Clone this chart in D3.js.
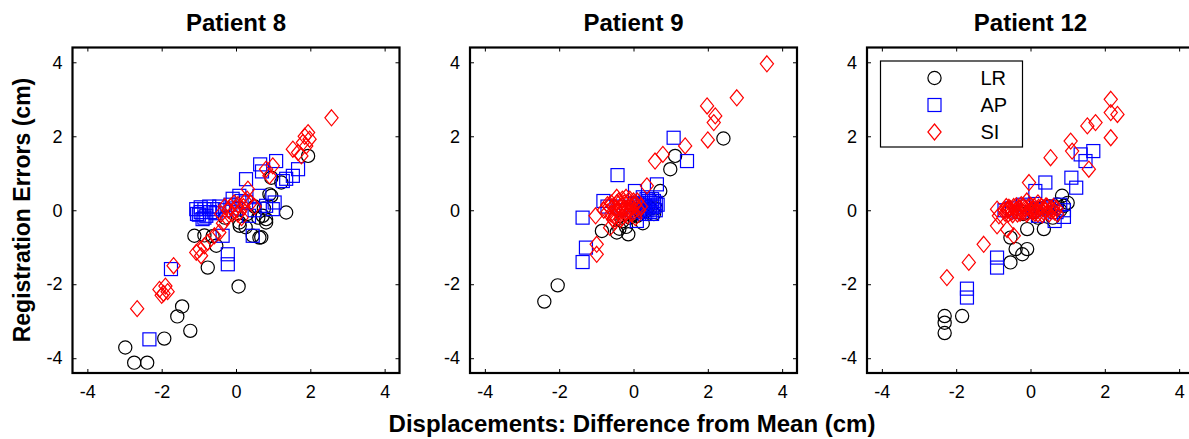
<!DOCTYPE html>
<html>
<head>
<meta charset="utf-8">
<script src="https://cdn.jsdelivr.net/npm/d3@7"></script>
<style>
  html, body { margin: 0; padding: 0; background: #fff; }
  svg { display: block; font-family: "Liberation Sans", Arial, sans-serif; }
</style>
</head>
<body>
<svg id="chart" width="1189" height="439"></svg>
<script>
// Panel titles and axis ticks
const patients = ["Patient 8", "Patient 9", "Patient 12"];
const tickValues = [-4, -2, 0, 2, 4];
const seriesNames = ["LR", "AP", "SI"];
const seriesColors = ["#000000", "#0000ff", "#ff0000"];
const seriesShapes = ["circle", "square", "diamond"];

// [displacement difference from mean, registration error] in cm
const p8LR = [[-2.98,-3.71],[-2.74,-4.12],[-2.39,-4.12],[-1.93,-3.47],[-1.58,-2.87],[-1.45,-2.6],[-1.23,-3.26],[-0.76,-1.55],[0.07,-2.06],[-1.12,-0.69],[-0.85,-0.68],[-0.53,-0.96],[-0.63,-0.7],[0.1,-0.42],[0.09,-0.33],[0.45,-0.69],[0.68,-0.73],[0.63,-0.74],[0.81,-0.24],[0.72,-0.15],[0.81,-0.33],[0.9,0.43],[0.95,0.39],[1.35,-0.06],[1.22,0.75],[0.95,0.88],[1.94,1.47],[-0.3,-0.2],[0.3,-0.1],[0.5,0.1],[0.26,-0.46],[0.6,-0.2],[0.75,0.05]];
const p8AP = [[-2.33,-3.49],[-1.75,-1.59],[-0.22,-1.19],[-0.22,-1.46],[0.45,-0.69],[-0.36,-0.69],[-1.07,0.03],[-0.95,-0.05],[-0.85,0.03],[-0.72,0.1],[-0.9,-0.24],[-1.0,-0.12],[-0.6,0.03],[-0.45,0.1],[-0.3,0.0],[-0.15,0.15],[0.0,0.05],[0.15,0.25],[0.27,0.84],[0.65,1.24],[0.7,1.05],[1.08,1.33],[1.53,0.93],[1.67,1.11],[1.26,0.79],[1.35,0.85],[0.99,0.03],[1.04,0.21],[0.81,0.12],[0.63,0.39],[-0.09,0.31],[0.09,0.39],[0.27,0.21],[0.5,0.0],[0.35,-0.15],[-1.05,-0.1],[-0.95,0.08],[-0.8,-0.15],[-0.7,-0.05],[-0.85,-0.2],[-0.55,-0.08]];
const p8SI = [[-2.66,-2.66],[-2.06,-2.14],[-2.0,-2.3],[-1.9,-2.05],[-1.84,-2.2],[-1.95,-2.25],[-1.68,-1.5],[-1.07,-1.14],[-0.98,-1.05],[-0.85,-0.96],[-0.94,-1.23],[-0.76,-0.87],[-0.58,-0.69],[-0.45,-0.6],[-0.35,-0.35],[-0.25,-0.2],[-0.2,0.0],[-0.1,-0.1],[0.0,0.05],[0.05,0.15],[0.1,-0.05],[0.2,0.1],[0.25,0.25],[-0.05,0.2],[0.3,0.3],[0.4,0.2],[0.5,0.1],[0.15,-0.2],[-0.3,0.1],[0.32,0.57],[0.81,1.11],[0.99,1.2],[0.9,0.93],[1.53,1.65],[1.67,1.56],[1.8,1.83],[1.94,2.1],[1.98,1.92],[1.89,1.74],[1.76,1.47],[1.85,2.0],[2.57,2.5],[-0.15,0.1],[0.05,-0.1],[-0.4,-0.1]];

const p9LR = [[-2.4,-2.47],[-2.04,-2.03],[-0.85,-0.56],[-0.45,-0.6],[-0.38,-0.5],[-0.14,-0.65],[-0.3,-0.3],[-0.1,-0.2],[0.0,-0.1],[0.1,-0.15],[0.2,-0.05],[0.35,0.0],[0.45,0.05],[0.55,-0.1],[0.6,0.05],[0.25,-0.35],[0.72,0.52],[0.99,1.11],[1.12,1.47],[2.42,1.94],[-0.2,-0.45],[0.4,0.1]];
const p9AP = [[-1.37,-1.4],[-1.28,-1.01],[-1.37,-0.2],[-0.43,0.95],[-0.81,0.25],[-0.7,0.1],[0.04,0.52],[0.63,0.7],[1.08,1.96],[1.44,1.33],[0.09,-0.29],[0.0,0.1],[0.1,0.2],[0.2,0.0],[0.3,0.15],[0.35,0.3],[0.4,0.05],[0.45,0.2],[0.5,0.1],[0.55,0.25],[0.6,0.0],[0.65,0.15],[0.3,-0.1],[0.15,-0.05],[-0.2,0.0],[-0.4,0.1],[0.5,-0.1],[0.25,0.35],[0.35,0.0],[0.45,-0.05],[0.55,0.1],[0.5,0.3],[0.4,0.25],[0.6,0.2],[0.25,0.1],[0.15,0.15]];
const p9SI = [[3.59,3.96],[2.78,3.04],[1.98,2.82],[2.2,2.55],[2.16,2.37],[2.0,1.9],[1.39,1.74],[0.79,1.51],[0.58,1.33],[0.36,0.66],[-0.99,-0.92],[-0.99,-1.19],[-1.02,-0.15],[-0.63,-0.47],[-0.8,0.0],[-0.7,0.15],[-0.6,-0.1],[-0.5,0.05],[-0.45,0.2],[-0.4,-0.05],[-0.35,0.1],[-0.3,0.3],[-0.25,-0.1],[-0.2,0.05],[-0.15,0.2],[-0.1,0.0],[-0.05,0.1],[0.0,-0.05],[0.05,0.15],[0.1,0.05],[0.15,0.0],[-0.55,-0.25],[-0.3,-0.2],[-0.4,0.25],[-0.15,-0.15],[-0.65,0.1],[0.2,0.1],[-0.2,0.35],[0.0,0.25],[-0.5,-0.15],[-0.6,0.2],[-0.5,-0.3],[-0.45,0.35],[-0.35,-0.25],[-0.25,0.2],[-0.1,0.3],[0.05,-0.2],[0.1,0.25],[-0.7,-0.05],[-0.3,0.0],[-0.2,-0.05],[-0.55,0.1],[-0.05,-0.1]];

const p12LR = [[-2.31,-2.86],[-2.31,-3.04],[-2.31,-3.32],[-1.84,-2.86],[-0.54,-0.74],[-0.54,-1.41],[-0.4,-1.05],[-0.22,-1.19],[-0.09,-1.05],[-0.09,-0.51],[0.36,-0.51],[0.85,0.39],[0.9,0.12],[0.72,0.16],[1.0,0.2],[0.8,0.0],[0.6,-0.2],[0.5,0.1],[0.3,0.05],[0.1,-0.05],[-0.2,-0.1],[0.2,-0.2]];
const p12AP = [[-1.71,-2.12],[-1.71,-2.36],[-0.9,-1.28],[-0.9,-1.55],[0.4,0.75],[0.13,0.52],[1.1,0.88],[1.23,0.61],[1.35,1.51],[1.48,1.33],[1.69,1.6],[0.65,-0.29],[0.9,0.0],[0.9,-0.18],[-0.7,0.0],[-0.5,0.05],[-0.3,-0.05],[-0.1,0.1],[0.1,0.0],[0.3,0.05],[0.5,0.1],[0.7,-0.05],[0.8,0.15],[0.2,-0.15],[-0.2,0.15]];
const p12SI = [[-2.25,-1.82],[-1.66,-1.41],[-1.26,-0.92],[-0.9,-0.42],[-0.85,-0.15],[-0.9,0.03],[-0.63,-0.52],[-0.45,-0.69],[-0.04,0.75],[0.54,1.42],[1.08,1.87],[1.12,1.6],[1.53,2.28],[1.75,2.37],[1.57,1.11],[2.16,3.0],[2.16,2.64],[2.34,2.59],[2.16,1.96],[-0.7,0.0],[-0.65,0.1],[-0.6,-0.1],[-0.55,0.05],[-0.5,-0.05],[-0.45,0.1],[-0.4,0.0],[-0.35,-0.1],[-0.3,0.05],[-0.25,0.15],[-0.2,-0.05],[-0.15,0.05],[-0.1,-0.1],[-0.05,0.1],[0.0,0.0],[0.05,-0.05],[0.1,0.1],[0.15,0.0],[0.2,-0.1],[0.25,0.05],[0.3,0.1],[0.35,-0.05],[0.4,0.0],[0.45,0.1],[0.5,-0.1],[0.55,0.05],[0.6,0.0],[0.65,-0.05],[0.7,0.05],[-0.1,0.25],[0.2,0.2],[-0.68,-0.08],[-0.58,0.08],[-0.48,-0.12],[-0.38,0.12],[-0.28,-0.08],[-0.18,0.1],[-0.08,-0.05],[0.02,0.12],[0.12,-0.08],[0.22,0.08],[0.32,-0.12],[0.42,0.12],[0.52,0.0],[0.62,0.1],[0.72,-0.1],[-0.62,0.0],[0.08,0.02],[-0.32,-0.02],[0.38,0.03]];

const panelSeries = [[p8LR, p8AP, p8SI], [p9LR, p9AP, p9SI], [p12LR, p12AP, p12SI]];

const svg = d3.select("#chart");
const panelLeft = [72.5, 470, 867];
const panelTop = 47.5, panelW = 327, panelH = 325.5;
const domain = [-4.4, 4.4];

function marker(sel, shape, color) {
  if (shape === "circle") {
    sel.append("circle").attr("r", 6.6)
      .attr("fill", "none").attr("stroke", color).attr("stroke-width", 1.2);
  } else if (shape === "square") {
    sel.append("rect").attr("x", -6.5).attr("y", -6.5).attr("width", 13).attr("height", 13)
      .attr("fill", "none").attr("stroke", color).attr("stroke-width", 1.2);
  } else {
    sel.append("path").attr("d", "M0,-8L6.6,0L0,8L-6.6,0Z")
      .attr("fill", "none").attr("stroke", color).attr("stroke-width", 1.2);
  }
}

patients.forEach((name, p) => {
  const x = d3.scaleLinear().domain(domain).range([0, panelW]);
  const y = d3.scaleLinear().domain(domain).range([panelH, 0]);
  const g = svg.append("g").attr("transform", `translate(${panelLeft[p]},${panelTop})`);

  // inward tick marks on all four sides
  const tickLen = 4;
  const axB = d3.axisBottom(x).tickValues(tickValues).tickSizeInner(-tickLen).tickSizeOuter(0).tickFormat(d => d);
  const axT = d3.axisTop(x).tickValues(tickValues).tickSizeInner(-tickLen).tickSizeOuter(0).tickFormat("");
  const axL = d3.axisLeft(y).tickValues(tickValues).tickSizeInner(-tickLen).tickSizeOuter(0).tickFormat(d => d);
  const axR = d3.axisRight(y).tickValues(tickValues).tickSizeInner(-tickLen).tickSizeOuter(0).tickFormat("");

  const gb = g.append("g").attr("transform", `translate(0,${panelH})`).call(axB);
  gb.selectAll("text").attr("y", 12).attr("dy", "0.71em");
  const gl = g.append("g").call(axL);
  gl.selectAll("text").attr("x", -10);
  g.append("g").call(axT);
  g.append("g").attr("transform", `translate(${panelW},0)`).call(axR);
  g.selectAll(".domain").remove();
  g.selectAll(".tick line").attr("stroke", "#000").attr("stroke-width", 1);
  g.selectAll(".tick text").attr("font-size", 18).attr("fill", "#000")
    .attr("font-family", "'Liberation Sans', Arial, sans-serif");

  // data
  panelSeries[p].forEach((pts, s) => {
    g.append("g").selectAll("g").data(pts).join("g")
      .attr("transform", d => `translate(${x(d[0])},${y(d[1])})`)
      .each(function () { marker(d3.select(this), seriesShapes[s], seriesColors[s]); });
  });

  // frame
  g.append("rect").attr("width", panelW).attr("height", panelH)
    .attr("fill", "none").attr("stroke", "#000").attr("stroke-width", 2.2);

  // title
  svg.append("text").attr("x", panelLeft[p] + panelW / 2).attr("y", 31)
    .attr("text-anchor", "middle").attr("font-size", 24).attr("font-weight", "bold")
    .text(name);

  // legend in last panel
  if (p === patients.length - 1) {
    const lg = g.append("g").attr("transform", "translate(13.5,13.5)");
    lg.append("rect").attr("width", 142).attr("height", 86)
      .attr("fill", "#fff").attr("stroke", "#000").attr("stroke-width", 1.2);
    seriesNames.forEach((n, i) => {
      const row = lg.append("g").attr("transform", `translate(54,${17 + i * 27})`);
      marker(row, seriesShapes[i], seriesColors[i]);
      row.append("text").attr("x", 46).attr("dy", "0.36em").attr("font-size", 20).text(n);
    });
  }
});

// shared axis labels
svg.append("text").attr("transform", "translate(30,210) rotate(-90)")
  .attr("text-anchor", "middle").attr("font-size", 23).attr("font-weight", "bold")
  .text("Registration Errors (cm)");
svg.append("text").attr("x", 632).attr("y", 432)
  .attr("text-anchor", "middle").attr("font-size", 24).attr("font-weight", "bold")
  .text("Displacements: Difference from Mean (cm)");
</script>
</body>
</html>
